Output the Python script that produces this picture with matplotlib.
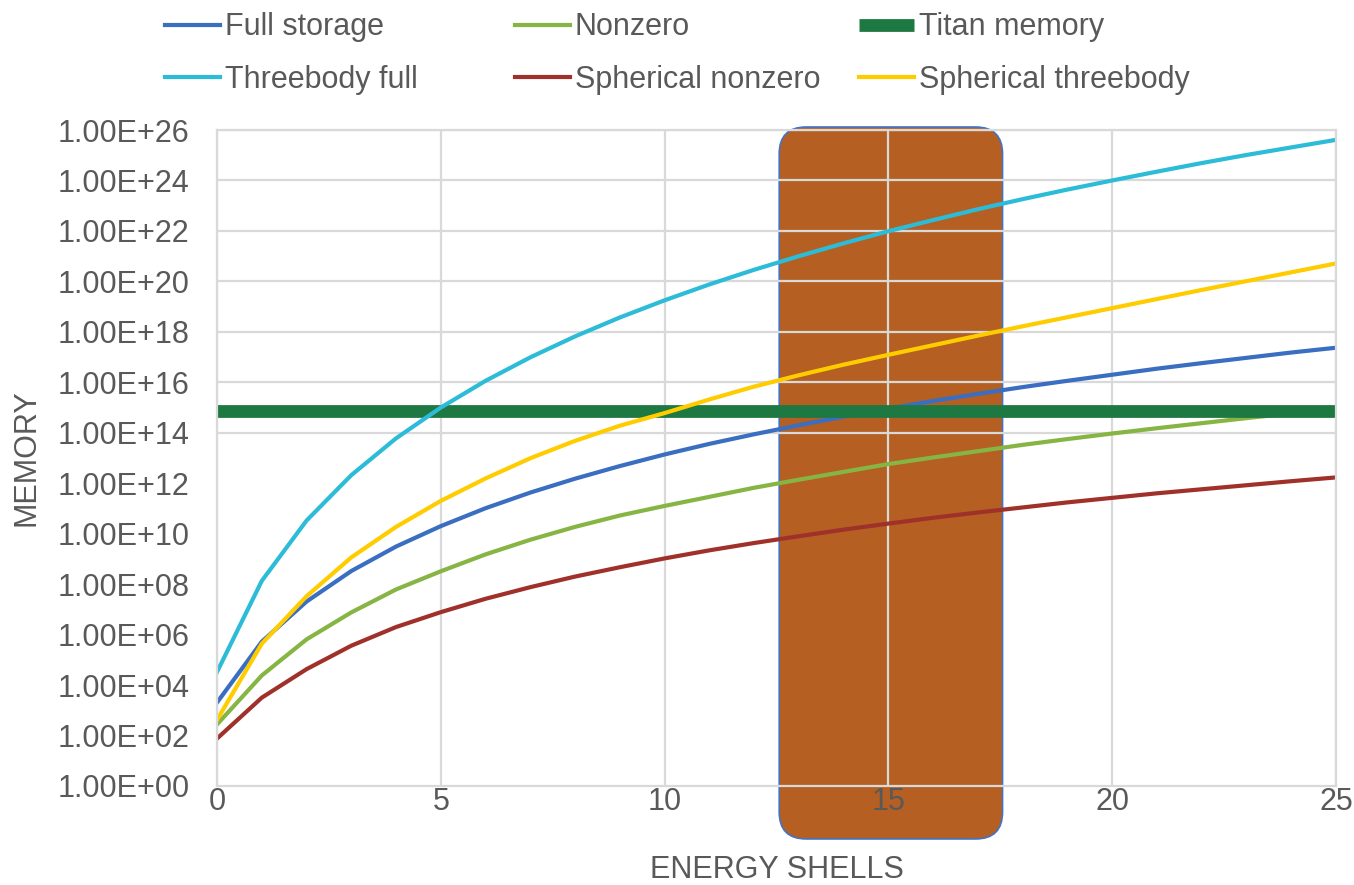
import numpy as np
import matplotlib.pyplot as plt
from matplotlib.patches import FancyBboxPatch
from matplotlib.ticker import NullLocator

plt.rcParams['font.family'] = ['Liberation Sans', 'DejaVu Sans']

shells = list(range(26))

# log10 of memory (one value per energy shell 0..25)
full_storage = [3.31, 5.72, 7.31, 8.52, 9.49, 10.30, 11.01, 11.63, 12.18, 12.68,
                13.14, 13.56, 13.94, 14.30, 14.64, 14.96, 15.26, 15.54, 15.81, 16.06,
                16.30, 16.54, 16.76, 16.97, 17.18, 17.37]
nonzero = [2.44, 4.38, 5.81, 6.88, 7.79, 8.51, 9.18, 9.76, 10.27, 10.72,
           11.10, 11.46, 11.82, 12.14, 12.45, 12.76, 13.02, 13.27, 13.52, 13.75,
           13.97, 14.18, 14.38, 14.58, 14.77, 14.95]
threebody_full = [4.52, 8.13, 10.52, 12.32, 13.78, 15.00, 16.06, 16.99, 17.82, 18.57,
                  19.25, 19.88, 20.46, 21.00, 21.51, 21.99, 22.43, 22.86, 23.26, 23.64,
                  24.00, 24.35, 24.69, 25.01, 25.31, 25.61]
spherical_nonzero = [1.88, 3.50, 4.63, 5.56, 6.30, 6.89, 7.42, 7.88, 8.30, 8.67,
                     9.02, 9.34, 9.63, 9.90, 10.16, 10.40, 10.63, 10.84, 11.04, 11.24,
                     11.42, 11.60, 11.76, 11.92, 12.08, 12.23]
spherical_threebody = [2.62, 5.64, 7.52, 9.06, 10.27, 11.30, 12.19, 12.99, 13.68, 14.28,
                       14.78, 15.32, 15.83, 16.28, 16.70, 17.09, 17.47, 17.85, 18.22, 18.58,
                       18.94, 19.30, 19.66, 20.01, 20.36, 20.71]
titan_memory = 7.1e14

# shaded band of shells
highlight = (12.56, 17.55)

ytick_exps = list(range(0, 27, 2))
ytick_labels = [f"1.00E+{e:02d}" for e in ytick_exps]

text_col = '#595959'
grid_col = '#D9D9D9'

fig = plt.figure(figsize=(13.54, 8.85), dpi=100)
ax = fig.add_axes([0.1603, 0.1119, 0.8264, 0.7412])

ax.set_yscale('log')
ax.set_xlim(0, 25)
ax.set_ylim(1, 1e26)

x = np.array(shells)
lw = 3.0
h_full, = ax.plot(x, 10.0 ** np.array(full_storage), color='#3A6EC0', lw=lw, zorder=2, label='Full storage')
h_nz, = ax.plot(x, 10.0 ** np.array(nonzero), color='#86B544', lw=lw, zorder=2.1, label='Nonzero')
h_titan, = ax.plot(x, [titan_memory] * len(x), color='#1E7842', lw=9.2, zorder=2.2,
                   solid_capstyle='butt', label='Titan memory')
h_3b, = ax.plot(x, 10.0 ** np.array(threebody_full), color='#2CBCD8', lw=lw, zorder=2.3, label='Threebody full')
h_snz, = ax.plot(x, 10.0 ** np.array(spherical_nonzero), color='#A0312A', lw=lw, zorder=2.4, label='Spherical nonzero')
h_s3b, = ax.plot(x, 10.0 ** np.array(spherical_threebody), color='#FFCC00', lw=lw, zorder=2.5, label='Spherical threebody')

# grid: vertical every 5, horizontal only from 1E+14 up
ax.set_axisbelow(True)
ax.set_xticks(range(0, 26, 5))
ax.grid(axis='x', color=grid_col, lw=1.6)
for e in ytick_exps:
    if e >= 14:
        ax.axhline(10.0 ** e, color=grid_col, lw=1.6, zorder=0.6)
for s in ax.spines.values():
    s.set_color(grid_col)
    s.set_linewidth(1.6)

ax.set_yticks([10.0 ** e for e in ytick_exps])
ax.set_yticklabels(ytick_labels)
ax.yaxis.set_minor_locator(NullLocator())
ax.tick_params(axis='both', length=0, labelsize=22, labelcolor=text_col)
ax.tick_params(axis='y', pad=20)
ax.tick_params(axis='x', pad=1)

ax.set_xlabel('ENERGY SHELLS', fontsize=22, color=text_col, labelpad=27)
ax.set_ylabel('MEMORY', fontsize=22, color=text_col, labelpad=11)

# rounded band behind the grid
to_fig = fig.transFigure.inverted()
x0 = to_fig.transform(ax.transData.transform((highlight[0], 1)))[0]
x1 = to_fig.transform(ax.transData.transform((highlight[1], 1)))[0]
y0 = to_fig.transform(ax.transAxes.transform((0, -0.0808)))[1]
y1 = to_fig.transform(ax.transAxes.transform((0, 1.0046)))[1]
W, H = fig.get_size_inches()
band = FancyBboxPatch((x0, y0), x1 - x0, y1 - y0,
                      boxstyle=f"round,pad=0,rounding_size={27 / (W * 100):.4f}",
                      mutation_aspect=W / H, transform=fig.transFigure,
                      facecolor='#B55F22', edgecolor='#4472C4', lw=1.2,
                      clip_on=False, zorder=0.3)
ax.add_artist(band)

# legend: three columns of two rows
cols = [[h_full, h_3b], [h_nz, h_snz], [h_titan, h_s3b]]
col_x = [0.1219, 0.3804, 0.6344]
for handles, cx in zip(cols, col_x):
    fig.legend(handles=handles, loc='upper left', bbox_to_anchor=(cx, 0.986),
               frameon=False, fontsize=22, handlelength=1.8, handletextpad=0.15,
               labelspacing=0.73, borderpad=0, borderaxespad=0, labelcolor=text_col)

fig.savefig('out.png', dpi=100)
